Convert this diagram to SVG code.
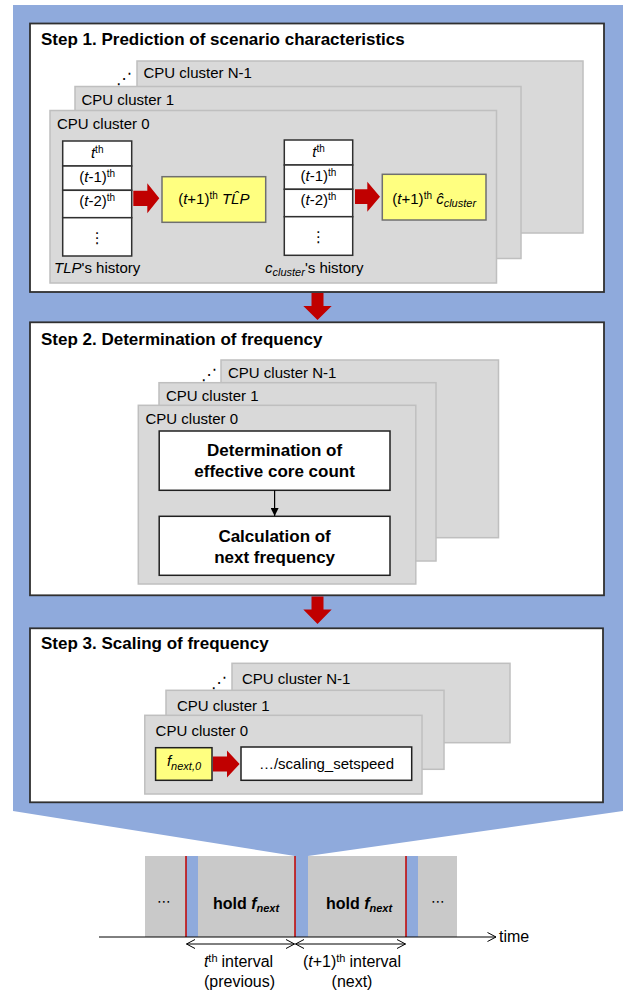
<svg xmlns="http://www.w3.org/2000/svg" width="631" height="992" viewBox="0 0 631 992">
<defs>
<style>
text{font-family:"Liberation Sans",Arial,sans-serif;fill:#000}
.title{font-size:17px;font-weight:bold}
.lbl{font-size:15px}
.b17{font-size:17px;font-weight:bold;text-anchor:middle}
.cl{fill:#D9D9D9;stroke:#BFBFBF;stroke-width:1.5}
.step{fill:#fff;stroke:#303030;stroke-width:1.8}
.cell{fill:#fff;stroke:#303030;stroke-width:1.5}
.yel{fill:#FFFF80;stroke:#6F6F6F;stroke-width:1.5}
.wbox{fill:#fff;stroke:#202020;stroke-width:1.5}
.red{fill:#C00000}
.it{font-style:italic}
.mid{text-anchor:middle}
.dj{font-family:"DejaVu Sans",sans-serif}
.dots{font-family:"DejaVu Sans",sans-serif;font-size:16px}
.tl{fill:#C9C9C9}
.bl{fill:#8FAADC}
.rl{stroke:#C00000;stroke-width:1.5}
.ax{stroke:#000;stroke-width:1;fill:none}
</style>
<marker id="oa" viewBox="0 0 10 10" refX="9.5" refY="5" markerWidth="10" markerHeight="10" markerUnits="userSpaceOnUse" orient="auto-start-reverse">
<path d="M1,0.5 L9.5,5 L1,9.5" fill="none" stroke="#000" stroke-width="1"/>
</marker>
<marker id="fa" viewBox="0 0 10 10" refX="10" refY="5" markerWidth="8" markerHeight="8" markerUnits="userSpaceOnUse" orient="auto">
<path d="M0,0 L10,5 L0,10 Z" fill="#000"/>
</marker>
</defs>

<g id="background">
<polygon class="bl" points="13,5 623,5 623,811 308,856 295,856 13,811"/>
</g>

<g id="step1">
<rect class="step" x="30" y="23.5" width="574" height="268.5"/>
<text class="title" x="41" y="45">Step 1. Prediction of scenario characteristics</text>
<g id="s1-clusterN">
<rect class="cl" x="137" y="61" width="446" height="172"/>
<text class="lbl" x="143.5" y="78">CPU cluster N-1</text>
<text class="dots" x="116" y="84">⋰</text>
</g>
<g id="s1-cluster1">
<rect class="cl" x="75" y="86.5" width="446" height="172"/>
<text class="lbl" x="81.5" y="104.5">CPU cluster 1</text>
</g>
<g id="s1-cluster0">
<rect class="cl" x="50" y="110.5" width="446.5" height="172.5"/>
<text class="lbl" x="57" y="128.5">CPU cluster 0</text>
</g>
<g id="tlp-history">
<rect class="cell" x="62.7" y="141" width="69" height="25"/>
<rect class="cell" x="62.7" y="166" width="69" height="24.3"/>
<rect class="cell" x="62.7" y="190.3" width="69" height="27.4"/>
<rect class="cell" x="62.7" y="217.7" width="69" height="38.3"/>
<text class="lbl mid" x="97.2" y="158"><tspan class="it">t</tspan><tspan font-size="10" dy="-5">th</tspan></text>
<text class="lbl mid" x="97.2" y="181.5">(<tspan class="it">t</tspan>-1)<tspan font-size="10" dy="-5">th</tspan></text>
<text class="lbl mid" x="97.2" y="205.5">(<tspan class="it">t</tspan>-2)<tspan font-size="10" dy="-5">th</tspan></text>
<text class="dj mid" x="97.2" y="243" font-size="15">⋮</text>
<text class="lbl" x="54" y="273"><tspan class="it">TLP</tspan>'s history</text>
</g>
<g id="tlp-pred">
<rect class="yel" x="162" y="176.7" width="103.7" height="45.6"/>
<text class="lbl mid" x="213.8" y="204">(<tspan class="it">t</tspan>+1)<tspan font-size="10" dy="-5">th</tspan><tspan dy="5"> </tspan><tspan class="it">TL̂P</tspan></text>
</g>
<g id="c-history">
<rect class="cell" x="284.3" y="140" width="68.4" height="25"/>
<rect class="cell" x="284.3" y="165" width="68.4" height="24.3"/>
<rect class="cell" x="284.3" y="189.3" width="68.4" height="27.4"/>
<rect class="cell" x="284.3" y="216.7" width="68.4" height="38.6"/>
<text class="lbl mid" x="318.5" y="157"><tspan class="it">t</tspan><tspan font-size="10" dy="-5">th</tspan></text>
<text class="lbl mid" x="318.5" y="180.5">(<tspan class="it">t</tspan>-1)<tspan font-size="10" dy="-5">th</tspan></text>
<text class="lbl mid" x="318.5" y="204.5">(<tspan class="it">t</tspan>-2)<tspan font-size="10" dy="-5">th</tspan></text>
<text class="dj mid" x="318.5" y="242" font-size="15">⋮</text>
<text class="lbl" x="265" y="273"><tspan class="it">c</tspan><tspan class="it" font-size="11" dy="3">cluster</tspan><tspan dy="-3">'s history</tspan></text>
</g>
<g id="c-pred">
<rect class="yel" x="382.3" y="174.3" width="103.7" height="45.7"/>
<text class="lbl mid" x="434.2" y="204">(<tspan class="it">t</tspan>+1)<tspan font-size="10" dy="-5">th</tspan><tspan dy="5"> </tspan><tspan class="it">ĉ</tspan><tspan class="it" font-size="11" dy="3">cluster</tspan></text>
</g>
</g>

<g id="step2">
<rect class="step" x="30" y="322.3" width="574" height="273"/>
<text class="title" x="41" y="344.5">Step 2. Determination of frequency</text>
<g id="s2-clusterN">
<rect class="cl" x="221" y="360" width="277.5" height="177.7"/>
<text class="lbl" x="228" y="377.5">CPU cluster N-1</text>
<text class="dots" x="201" y="380">⋰</text>
</g>
<g id="s2-cluster1">
<rect class="cl" x="159" y="382.7" width="277" height="178.3"/>
<text class="lbl" x="166" y="401">CPU cluster 1</text>
</g>
<g id="s2-cluster0">
<rect class="cl" x="138.3" y="405.3" width="277.5" height="178.7"/>
<text class="lbl" x="145.5" y="423.5">CPU cluster 0</text>
</g>
<g id="det-core">
<rect class="wbox" x="159.2" y="431" width="230.8" height="59.3"/>
<text class="b17" x="274.6" y="456">Determination of</text>
<text class="b17" x="274.6" y="477">effective core count</text>
</g>
<g id="calc-freq">
<rect class="wbox" x="159.2" y="516.3" width="230.8" height="59"/>
<text class="b17" x="274.6" y="542">Calculation of</text>
<text class="b17" x="274.6" y="563">next frequency</text>
</g>
</g>

<g id="step3">
<rect class="step" x="30" y="628.3" width="573" height="174"/>
<text class="title" x="41" y="649">Step 3. Scaling of frequency</text>
<g id="s3-clusterN">
<rect class="cl" x="232" y="663.3" width="278" height="79.4"/>
<text class="lbl" x="242" y="684">CPU cluster N-1</text>
<text class="dots" x="211" y="688">⋰</text>
</g>
<g id="s3-cluster1">
<rect class="cl" x="166" y="690.3" width="278" height="79"/>
<text class="lbl" x="177" y="711">CPU cluster 1</text>
</g>
<g id="s3-cluster0">
<rect class="cl" x="144.8" y="715.3" width="277.2" height="78.7"/>
<text class="lbl" x="155.6" y="735.5">CPU cluster 0</text>
</g>
<g id="fnext0">
<rect class="yel" x="155.6" y="747.7" width="56.4" height="32.6" style="stroke:#202020"/>
<text class="lbl mid" x="184" y="765.5"><tspan class="it">f</tspan><tspan class="it" font-size="11" dy="4">next,0</tspan></text>
</g>
<g id="setspeed">
<rect class="wbox" x="241" y="747" width="170.7" height="33.3"/>
<text class="lbl mid" x="326.5" y="769">…/scaling_setspeed</text>
</g>
</g>

<g id="connectors">
<polygon class="red" points="133.3,190.7 147.3,190.7 147.3,183.3 159.3,198.3 147.3,213.3 147.3,206 133.3,206"/>
<polygon class="red" points="355,189.3 367.3,189.3 367.3,181.7 380,196.7 367.3,211.7 367.3,204 355,204"/>
<polygon class="red" points="311.5,293 323.5,293 323.5,306 331.7,306 317.5,320 303.3,306 311.5,306"/>
<polygon class="red" points="311.5,596.5 323.5,596.5 323.5,609.5 331.7,609.5 317.5,624 303.3,609.5 311.5,609.5"/>
<polygon class="red" points="213,756.5 227,756.5 227,750.5 239.6,764 227,777.5 227,771.5 213,771.5"/>
<line x1="274.6" y1="490.3" x2="274.6" y2="516" stroke="#000" stroke-width="1.2" marker-end="url(#fa)"/>
</g>

<g id="timeline">
<rect class="tl" x="145" y="856" width="312" height="81"/>
<rect class="bl" x="186" y="856" width="12" height="81"/>
<rect class="bl" x="295" y="856" width="13" height="81"/>
<rect class="bl" x="406" y="856" width="12" height="81"/>
<line class="rl" x1="186" y1="856" x2="186" y2="937"/>
<line class="rl" x1="295" y1="856" x2="295" y2="937"/>
<line class="rl" x1="406" y1="856" x2="406" y2="937"/>
<text class="dj mid" x="164" y="906" font-size="14">⋯</text>
<text class="dj mid" x="438" y="906" font-size="14">⋯</text>
<text class="mid" x="246" y="909" font-size="16" font-weight="bold">hold <tspan class="it">f</tspan><tspan class="it" font-size="11" dy="3">next</tspan></text>
<text class="mid" x="359" y="909" font-size="16" font-weight="bold">hold <tspan class="it">f</tspan><tspan class="it" font-size="11" dy="3">next</tspan></text>
<line class="ax" x1="99" y1="937" x2="496" y2="937" marker-end="url(#oa)"/>
<text x="499" y="942" font-size="16">time</text>
<line class="ax" x1="186.5" y1="944" x2="294.5" y2="944" marker-start="url(#oa)" marker-end="url(#oa)"/>
<line class="ax" x1="295.5" y1="944" x2="405.5" y2="944" marker-start="url(#oa)" marker-end="url(#oa)"/>
<text class="mid" x="238.5" y="966.5" font-size="16"><tspan class="it">t</tspan><tspan font-size="11" dy="-5">th</tspan><tspan dy="5" dx="4">interval</tspan></text>
<text class="mid" x="239.5" y="986.5" font-size="16">(previous)</text>
<text class="mid" x="352" y="966.5" font-size="16">(<tspan class="it">t</tspan>+1)<tspan font-size="11" dy="-5">th</tspan><tspan dy="5" dx="4">interval</tspan></text>
<text class="mid" x="352" y="986.5" font-size="16">(next)</text>
</g>
</svg>
